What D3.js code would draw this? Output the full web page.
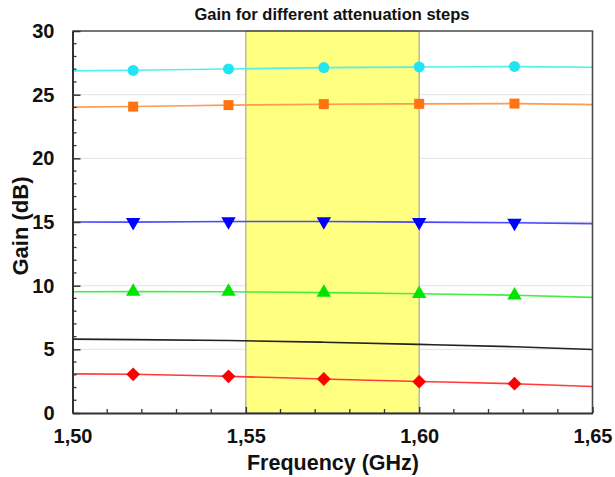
<!DOCTYPE html>
<html>
<head>
<meta charset="utf-8">
<script src="https://cdn.jsdelivr.net/npm/d3@7"></script>
<style>
  html, body { margin: 0; padding: 0; background: #fff; }
  svg { display: block; font-family: "Liberation Sans", Arial, sans-serif; }
</style>
</head>
<body>
<svg id="chart" width="615" height="477"></svg>
<script>
// Frequency grid (GHz) for the traces and for the measured points
const lineFreq   = [1.50, 1.5175, 1.545, 1.5725, 1.60, 1.6275, 1.65];
const markerFreq = [1.5175, 1.545, 1.5725, 1.60, 1.6275];

// Gain (dB) per attenuation step, along lineFreq
const gainCyan   = [26.87, 26.92, 27.02, 27.12, 27.17, 27.20, 27.15];
const gainOrange = [24.02, 24.07, 24.18, 24.25, 24.28, 24.30, 24.22];
const gainBlue   = [15.00, 14.99, 15.04, 15.04, 14.99, 14.94, 14.87];
const gainGreen  = [9.52, 9.53, 9.52, 9.45, 9.36, 9.25, 9.08];
const gainBlack  = [5.80, 5.76, 5.69, 5.56, 5.39, 5.20, 4.98];
const gainRed    = [3.07, 3.04, 2.88, 2.67, 2.47, 2.30, 2.08];

// Measured points (markers) for each step, along markerFreq
const ptsCyan   = [26.90, 27.02, 27.13, 27.18, 27.22];
const ptsOrange = [24.06, 24.18, 24.26, 24.28, 24.30];
const ptsBlue   = [14.98, 15.04, 15.04, 14.99, 14.93];
const ptsGreen  = [9.53, 9.53, 9.45, 9.36, 9.25];
const ptsRed    = [3.04, 2.88, 2.67, 2.46, 2.30];

const xTicks = [1.50, 1.55, 1.60, 1.65];
const yTicks = [0, 5, 10, 15, 20, 25, 30];
const band = [1.55, 1.60];

const title = "Gain for different attenuation steps";
const xTitle = "Frequency (GHz)";
const yTitle = "Gain (dB)";

const series = [
  { line: gainCyan,   pts: ptsCyan,   stroke: "#4ff0f0", fill: "#22e4f2", shape: "circle" },
  { line: gainOrange, pts: ptsOrange, stroke: "#ff9a50", fill: "#ff7410", shape: "square" },
  { line: gainBlue,   pts: ptsBlue,   stroke: "#4a4aff", fill: "#0000ff", shape: "down" },
  { line: gainGreen,  pts: ptsGreen,  stroke: "#44ee44", fill: "#00e400", shape: "up" },
  { line: gainBlack,  pts: null,      stroke: "#222222", fill: null,      shape: null },
  { line: gainRed,    pts: ptsRed,    stroke: "#ff3a3a", fill: "#ff0000", shape: "diamond" }
];

const svg = d3.select("#chart");
const L = 72.5, R = 592.5, T = 31, B = 413;

const x = d3.scaleLinear().domain([1.50, 1.65]).range([L, R]);
const y = d3.scaleLinear().domain([0, 30]).range([B, T]);

const fmt = d => d3.format(".2f")(d).replace(".", ",");

// horizontal grid
svg.append("g").selectAll("line")
  .data(yTicks.filter(v => v > 0 && v < 30))
  .join("line")
  .attr("x1", L).attr("x2", R)
  .attr("y1", d => y(d)).attr("y2", d => y(d))
  .attr("stroke", "#e4e4e4").attr("stroke-width", 1);

// highlighted band
svg.append("rect")
  .attr("x", x(band[0])).attr("y", T)
  .attr("width", x(band[1]) - x(band[0])).attr("height", B - T)
  .attr("fill", "#ffff80")
  .attr("stroke", "#a8a8a0").attr("stroke-width", 1.2);

// traces
const lineGen = d3.line()
  .x((d, i) => x(lineFreq[i]))
  .y(d => y(d))
  .curve(d3.curveMonotoneX);

const plot = svg.append("g");
series.forEach(s => {
  plot.append("path")
    .attr("d", lineGen(s.line))
    .attr("fill", "none")
    .attr("stroke", s.stroke)
    .attr("stroke-width", 1.6);
});

// markers
const sym = {
  circle:  d3.symbol().type(d3.symbolCircle).size(95),
  square:  d3.symbol().type(d3.symbolSquare).size(100),
  up:      d3.symbol().type(d3.symbolTriangle).size(90),
  down:    d3.symbol().type(d3.symbolTriangle).size(90),
  diamond: d3.symbol().type(d3.symbolSquare).size(95)
};
series.filter(s => s.pts).forEach(s => {
  plot.append("g").selectAll("path")
    .data(s.pts)
    .join("path")
    .attr("d", sym[s.shape]())
    .attr("transform", (d, i) => {
      const rot = s.shape === "down" ? " rotate(180)" : s.shape === "diamond" ? " rotate(45)" : "";
      return `translate(${x(markerFreq[i])},${y(d)})${rot}`;
    })
    .attr("fill", s.fill);
});

// frame: top and right edges
svg.append("path")
  .attr("d", `M${L},${T}H${R}V${B}`)
  .attr("fill", "none").attr("stroke", "#4a4a4a").attr("stroke-width", 1.6);

// y axis with inward ticks
const yAxis = d3.axisLeft(y).tickValues(yTicks).tickFormat(d3.format("d"))
  .tickSizeInner(-8).tickSizeOuter(0).tickPadding(18);
const gy = svg.append("g").attr("transform", `translate(${L},0)`).call(yAxis);
gy.select(".domain").attr("stroke", "#333").attr("stroke-width", 2);
gy.selectAll(".tick line").attr("stroke", "#333").attr("stroke-width", 1.5);
gy.selectAll(".tick text")
  .attr("font-size", 20).attr("font-weight", "bold").attr("fill", "#111");
const yMinor = d3.range(1, 30).filter(v => v % 5 !== 0);
svg.append("g").selectAll("line").data(yMinor).join("line")
  .attr("x1", L).attr("x2", L + 4)
  .attr("y1", d => y(d)).attr("y2", d => y(d))
  .attr("stroke", "#333").attr("stroke-width", 1.3);

// x axis with inward ticks
const xAxis = d3.axisBottom(x).tickValues(xTicks).tickFormat(fmt)
  .tickSizeInner(-6).tickSizeOuter(0).tickPadding(16);
const gx = svg.append("g").attr("transform", `translate(0,${B})`).call(xAxis);
gx.select(".domain").attr("stroke", "#333").attr("stroke-width", 2);
gx.selectAll(".tick line").attr("stroke", "#333").attr("stroke-width", 1.5);
gx.selectAll(".tick text")
  .attr("font-size", 20).attr("font-weight", "bold").attr("fill", "#111");
const xMinor = d3.range(1, 15).map(i => 1.50 + i * 0.01).filter((v, i) => (i + 1) % 5 !== 0);
svg.append("g").selectAll("line").data(xMinor).join("line")
  .attr("x1", d => x(d)).attr("x2", d => x(d))
  .attr("y1", B).attr("y2", B - 4)
  .attr("stroke", "#333").attr("stroke-width", 1.3);

// titles
svg.append("text")
  .attr("x", 332).attr("y", 20)
  .attr("text-anchor", "middle")
  .attr("font-size", 16.5).attr("font-weight", "bold").attr("fill", "#111")
  .text(title);

svg.append("text")
  .attr("x", 333).attr("y", 470)
  .attr("text-anchor", "middle")
  .attr("font-size", 21.5).attr("font-weight", "bold").attr("fill", "#111")
  .text(xTitle);

svg.append("text")
  .attr("transform", "translate(28,226) rotate(-90)")
  .attr("text-anchor", "middle")
  .attr("font-size", 22).attr("font-weight", "bold").attr("fill", "#111")
  .text(yTitle);
</script>
</body>
</html>
